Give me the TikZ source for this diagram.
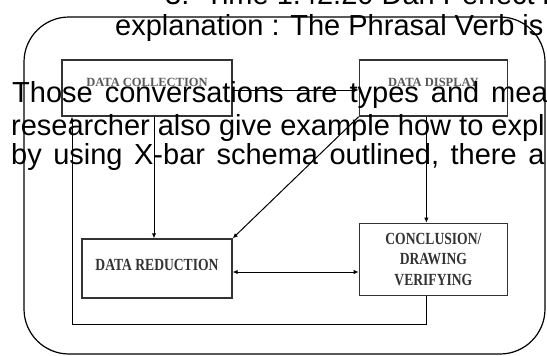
\documentclass[tikz,border=0pt]{standalone}
\usepackage{fontspec}
\setmainfont{Liberation Sans}
\newfontfamily\boxfont{Liberation Serif}
\newfontfamily\narrowfont[FakeStretch=0.8]{Liberation Serif}
\usetikzlibrary{arrows.meta, positioning}

\begin{document}
\begin{tikzpicture}[x=1pt, y=-1pt,
        box/.style={draw=black!80, line width=1.4pt, inner sep=0pt},
        toplabel/.style={font=\boxfont\bfseries\fontsize{12.5}{14}\selectfont, text=black!65},
        lowlabel/.style={font=\narrowfont\bfseries\fontsize{17}{20.5}\selectfont, text=black!80, align=center},
        arr/.style={-{Latex[length=5pt,width=4.5pt]}, line width=1pt},
        darr/.style={{Latex[length=5pt,width=4.5pt]}-{Latex[length=5pt,width=4.5pt]}, line width=1pt},
        pageline/.style={font=\fontsize{29}{32}\selectfont, anchor=base west, inner sep=0pt}
    ]
        \useasboundingbox (0,0) rectangle (547,356);
        \clip (0,0) rectangle (547,356);
        % outer frame
        \draw[line width=1.2pt, rounded corners=45pt] (24,17) rectangle (545,354);
        % boxes
        \node[box, toplabel, minimum width=170pt, minimum height=56pt, text depth=12pt] (coll) at (147,88) {DATA COLLECTION};
        \node[box, toplabel, minimum width=148pt, minimum height=56pt, text depth=12pt, right=126pt of coll] (disp) {DATA DISPLAY};
        \node[box, lowlabel, minimum width=148pt, minimum height=72pt, below=106pt of disp] (concl) {CONCLUSION/\\DRAWING\\VERIFYING};
        \node[box, lowlabel, minimum width=150pt, minimum height=59pt, text depth=7pt] (red) at (157,268.5) {DATA REDUCTION};
        \coordinate (loop) at (72,324);
        % connectors
        \draw[arr] ([yshift=-2pt]coll.east) -- ([yshift=-2pt]disp.west);
        \draw[arr] ([xshift=-3pt]red.north |- coll.south) -- ([xshift=-3pt]red.north);
        \draw[arr] (disp.south west) -- (red.north east);
        \draw[arr] ([xshift=-7pt]disp.south) -- ([xshift=-7pt]concl.north);
        \draw[darr] ([yshift=-3.5pt]red.east) -- ([yshift=-3.5pt]red.east -| concl.west);
        \draw[arr] ([xshift=-7pt]concl.south) |- (loop) -- (loop |- coll.south);
        % page text over the figure
        \node[pageline] (t1) at (165,5) {3.\hspace{16pt}Time 1.42.20 Dari Perfect it out};
        \node[pageline] (t2) at (115,35) {explanation : The Phrasal Verb is};
        \node[pageline] (t3) at (12,102) {\spaceskip=12pt Those conversations are types and mea};
        \node[pageline] (t4) at (11,135) {researcher also give example how to expl};
        \node[pageline] (t5) at (11,164) {\spaceskip=11.5pt by using X-bar schema outlined, there a};
    \end{tikzpicture}
\end{document}
